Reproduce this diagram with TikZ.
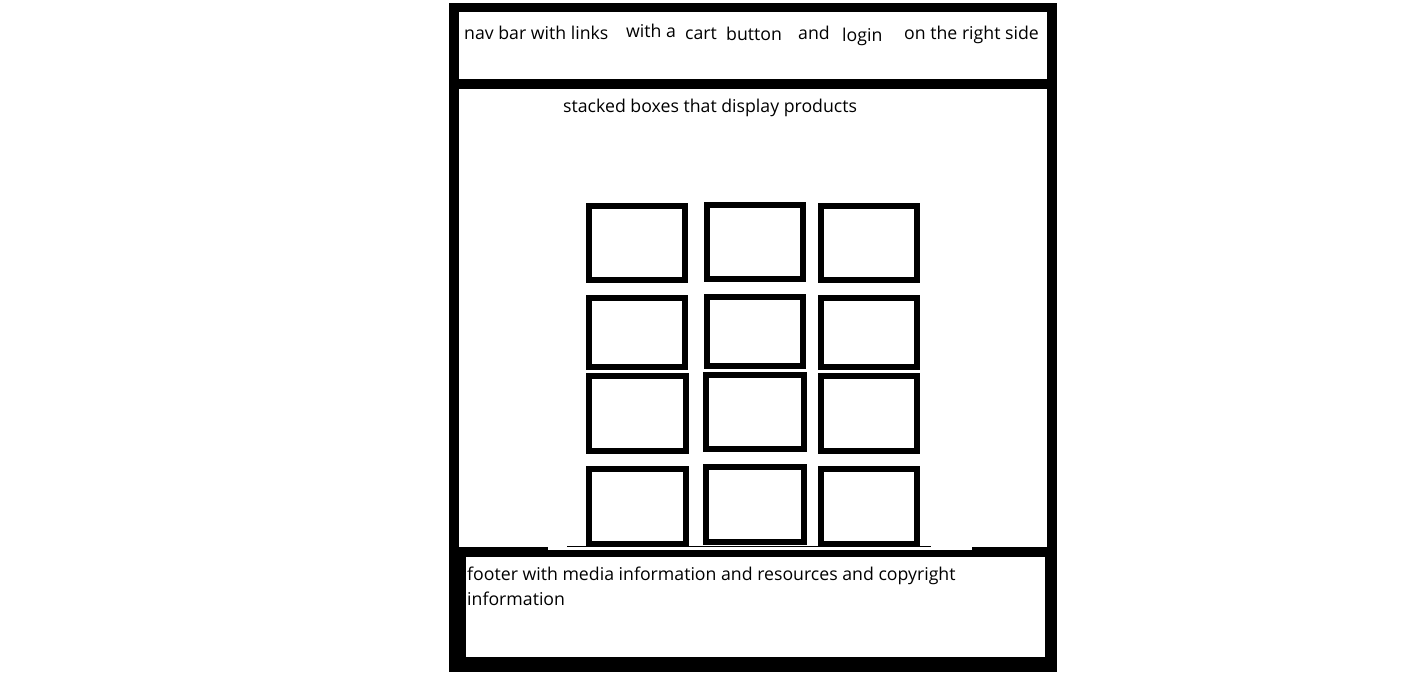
\documentclass[tikz,border=0pt]{standalone}
\usepackage{fontspec}
\setmainfont{Open Sans}
\begin{document}
\begin{tikzpicture}[x=1pt,y=-1pt,%
% common options for the page areas:
area/.style = {rectangle, draw=none, anchor=north west, inner sep=0},
% common options for the product boxes:
prodbox/.style = {rectangle, draw=black, line width=6pt, fill=white,
            minimum width=96pt, minimum height=74pt, inner sep=0},
% common options for the labels:
label/.style = {rectangle, anchor=base west, inner sep=0,
            font=\fontsize{17.7}{22}\selectfont}]
\useasboundingbox (0,0) rectangle (1416,672);
\node[area, fill=black, minimum width=608pt, minimum height=669pt] (frame) at (449,3) {};
\node[area, fill=white, minimum width=588pt, minimum height=67pt] (header) at (459,12) {};
\node[area, fill=white, minimum width=588pt, minimum height=458pt] (main) at (459,89) {};
\node[area, fill=white, minimum width=424pt, minimum height=3pt] (mainfoot) at (548,547) {};
\node[area, fill=white, minimum width=579pt, minimum height=100pt] (footer) at (466,557) {};
% nav bar texts
\node[label] (nav) at (464,39) {nav bar with links};
\node[label] (witha) at (626,37) {with a};
\node[label] (cart) at (685,39) {cart};
\node[label] (button) at (726,40) {button};
\node[label] (and) at (798,39) {and};
\node[label] (login) at (842,41) {login};
\node[label] (side) at (904,39) {on the right side};
% product grid
\node[label] (stacked) at (563,112) {stacked boxes that display products};
\node[prodbox] (b11) at (637,243) {};
\node[prodbox] (b12) at (754.5,242) {};
\node[prodbox] (b13) at (868.5,243) {};
\node[prodbox, minimum height=69pt] (b21) at (637,332.5) {};
\node[prodbox, minimum height=69pt] (b22) at (754.5,331.5) {};
\node[prodbox, minimum height=69pt] (b23) at (868.5,332.5) {};
\node[prodbox, minimum width=97pt, minimum height=75pt] (b31) at (637.5,413.5) {};
\node[prodbox, minimum width=98pt] (b32) at (755,412) {};
\node[prodbox, minimum height=75pt] (b33) at (868.5,413.5) {};
\node[prodbox, minimum width=97pt, minimum height=75pt] (b41) at (637.5,506.5) {};
\node[prodbox, minimum width=98pt, minimum height=75pt] (b42) at (755,504.5) {};
\node[prodbox, minimum height=75pt] (b43) at (868.5,506.5) {};
\draw[line width=1pt] (567,546.5) -- (931,546.5);
% footer text
\node[label] (foot1) at (467,580) {footer with media information and resources and copyright};
\node[label] (foot2) at (467,605) {information};
\end{tikzpicture}
\end{document}
